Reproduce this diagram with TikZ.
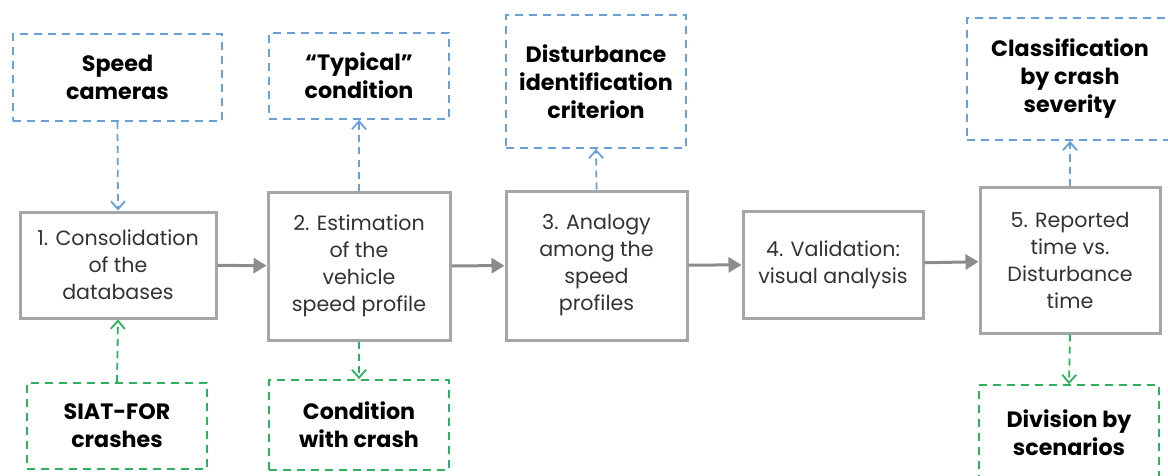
\documentclass[tikz,border=0pt]{standalone}
\usepackage{fontspec}
\setmainfont{Poppins}
\usetikzlibrary{arrows.meta}
\definecolor{boxgray}{HTML}{A6A6A6}
\definecolor{arrgray}{HTML}{8C8C8C}
\definecolor{dblue}{HTML}{6A9FD8}
\definecolor{dgreen}{HTML}{2EB15E}
\definecolor{txt}{HTML}{333333}
\tikzset{
  stepbox/.style={draw=boxgray,line width=3pt,fill=white,align=center,inner sep=0pt,
    text=txt,font=\fontsize{20.6}{27}\selectfont},
  inbox/.style={draw=#1,dashed,dash pattern=on 8pt off 6pt,line width=1.8pt,align=center,inner sep=0pt,
    text=black,font=\bfseries\fontsize{22.2}{28}\selectfont},
  flow/.style={draw=arrgray,line width=3pt,-{Triangle[length=13pt,width=15pt]}},
  dflow/.style={draw=#1,dashed,dash pattern=on 7pt off 5pt,line width=1.8pt,-{Straight Barb[length=8pt,width=14pt,line width=1.8pt]}}
}
\begin{document}
\begin{tikzpicture}[x=1pt,y=1pt]
\clip (0,0) rectangle (1168,475);
\fill[white] (0,0) rectangle (1168,475);
% main steps
\node[stepbox,minimum width=196,minimum height=106] (s1) at (118,210) {1. Consolidation\\of the\\databases};
\node[stepbox,minimum width=182,minimum height=148] (s2) at (359,209) {2. Estimation\\of the\\vehicle\\speed profile};
\node[stepbox,minimum width=181,minimum height=149] (s3) at (596.5,209.5) {3. Analogy\\among the\\speed\\profiles};
\node[stepbox,minimum width=180,minimum height=107] (s4) at (833,210.5) {4. Validation:\\visual analysis};
\node[stepbox,minimum width=180,minimum height=146] (s5) at (1070,215) {5. Reported\\time vs.\\Disturbance\\time};
% dashed inputs/outputs
\node[inbox=dblue,minimum width=209,minimum height=87] (cam) at (117.5,397.5) {Speed\\cameras};
\node[inbox=dgreen,minimum width=180,minimum height=86] (siat) at (117,49) {SIAT-FOR\\crashes};
\node[inbox=dblue,minimum width=180,minimum height=86] (typ) at (359,399) {``Typical''\\condition};
\node[inbox=dgreen,minimum width=180,minimum height=90] (cwc) at (359,50) {Condition\\with crash};
\node[inbox=dblue,minimum width=180,minimum height=133] (dis) at (596,393.5) {Disturbance\\identification\\criterion};
\node[inbox=dblue,minimum width=206,minimum height=122] (cls) at (1070,396) {Classification\\by crash\\severity};
\node[inbox=dgreen,minimum width=180,minimum height=96] (div) at (1069,42) {Division by\\scenarios};
% main flow
\draw[flow] (s1) -- (s2);
\draw[flow] (s2) -- (s3);
\draw[flow] (s3) -- (s4);
\draw[flow] (s4) -- (s5);
% dashed connectors
\draw[dflow=dblue] (cam.south) -- (s1.north);
\draw[dflow=dgreen] (siat.north) -- (s1.south);
\draw[dflow=dblue] (s2.north) -- (typ.south);
\draw[dflow=dgreen] (s2.south) -- (cwc.north);
\draw[dflow=dblue] (s3.north) -- (dis.south);
\draw[dflow=dblue] (s5.north) -- (cls.south);
\draw[dflow=dgreen] (s5.south) -- (div.north);
\end{tikzpicture}
\end{document}
